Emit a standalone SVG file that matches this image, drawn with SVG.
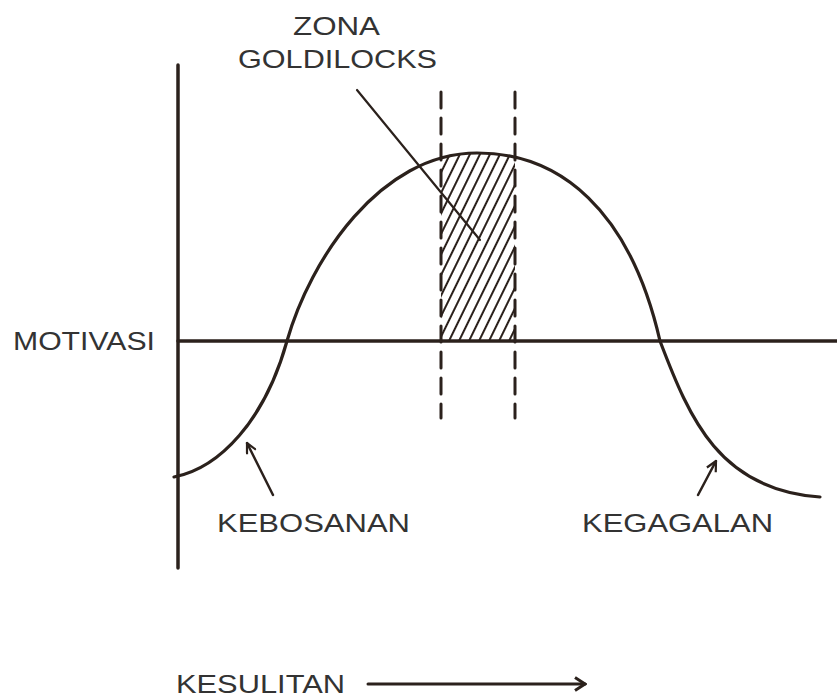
<svg xmlns="http://www.w3.org/2000/svg" width="837" height="697" viewBox="0 0 837 697">
<style>
.ln{fill:none;stroke:#2b211c;stroke-linecap:round;stroke-linejoin:round}
.t{font-family:"Liberation Sans",Arial,sans-serif;font-size:25px;fill:#333333}
</style>
<defs>
<pattern id="hatch" patternUnits="userSpaceOnUse" width="9" height="9" patternTransform="rotate(26)">
<line x1="4" y1="0" x2="4" y2="9" stroke="#2b211c" stroke-width="2"/>
</pattern>
<marker id="ah" viewBox="0 0 12 12" refX="11" refY="6" markerWidth="12" markerHeight="12" markerUnits="userSpaceOnUse" orient="auto">
<path d="M1,1 L11,6 L1,11" fill="none" stroke="#2b211c" stroke-width="2.2"/>
</marker>
<marker id="ahb" viewBox="0 0 14 16" refX="12" refY="8" markerWidth="14" markerHeight="16" markerUnits="userSpaceOnUse" orient="auto">
<path d="M2,1.5 L12,8 L2,14.5" fill="none" stroke="#2b211c" stroke-width="3"/>
</marker>
</defs>
<rect width="837" height="697" fill="#ffffff"/>
<g id="zone">
<path d="M441,341 L441,156 Q478,149 515,157 L515,341 Z" fill="url(#hatch)"/>
</g>
<g id="axes">
<line class="ln" x1="178" y1="65" x2="178" y2="568" stroke-width="3.5"/>
<line class="ln" x1="178" y1="341" x2="837" y2="341" stroke-width="3.5"/>
</g>
<g id="dashes">
<line class="ln" x1="441" y1="92" x2="441" y2="418" stroke-width="3" stroke-dasharray="16 10" stroke-linecap="butt"/>
<line class="ln" x1="515" y1="92" x2="515" y2="418" stroke-width="3" stroke-dasharray="16 10" stroke-linecap="butt"/>
</g>
<g id="curve">
<path class="ln" stroke-width="3.2" d="M174,477 C220,468 265,420 287,341 C310,260 380,153 477,153 C560,153 630,210 660,341 C690,420 720,490 820,497"/>
</g>
<g id="connectors">
<line class="ln" x1="357" y1="90" x2="480" y2="240" stroke-width="2.2"/>
<line class="ln" x1="273" y1="495" x2="247" y2="443" stroke-width="2.5" marker-end="url(#ah)"/>
<line class="ln" x1="698" y1="495" x2="716" y2="461" stroke-width="2.5" marker-end="url(#ah)"/>
<line class="ln" x1="368" y1="684" x2="585" y2="684" stroke-width="3" marker-end="url(#ahb)"/>
</g>
<g id="labels">
<text class="t" x="293" y="35" textLength="87" lengthAdjust="spacingAndGlyphs">ZONA</text>
<text class="t" x="238" y="68" textLength="199" lengthAdjust="spacingAndGlyphs">GOLDILOCKS</text>
<text class="t" x="13" y="350" textLength="142" lengthAdjust="spacingAndGlyphs">MOTIVASI</text>
<text class="t" x="217" y="532" textLength="193" lengthAdjust="spacingAndGlyphs">KEBOSANAN</text>
<text class="t" x="582" y="532" textLength="191" lengthAdjust="spacingAndGlyphs">KEGAGALAN</text>
<text class="t" x="176" y="693" textLength="169" lengthAdjust="spacingAndGlyphs">KESULITAN</text>
</g>
</svg>
